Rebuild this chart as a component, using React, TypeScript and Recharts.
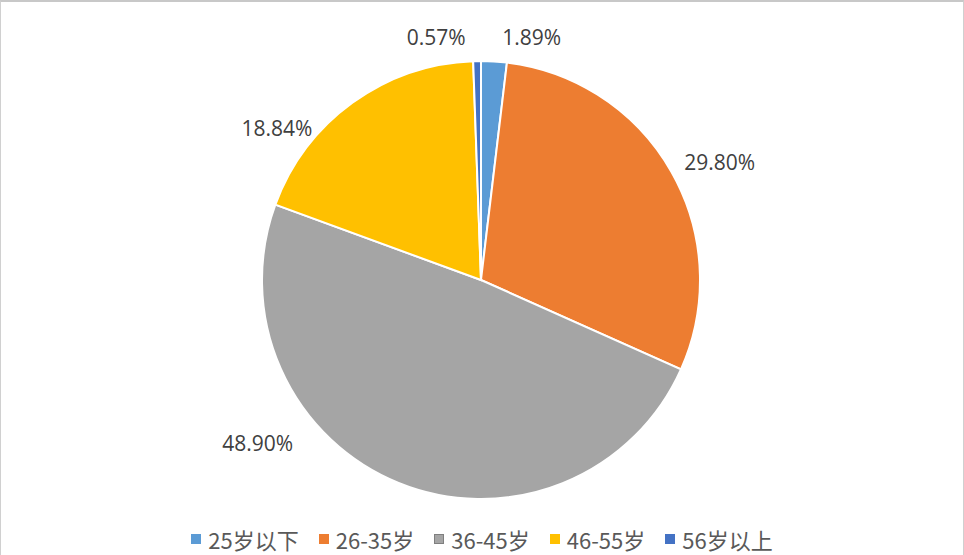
import React from "react";
import { PieChart, Pie, Cell, Legend } from "recharts";

const categories = ["25岁以下", "26-35岁", "36-45岁", "46-55岁", "56岁以上"];
const shares = [1.89, 29.8, 48.9, 18.84, 0.57];
const colors = ["#5B9BD5", "#ED7D31", "#A5A5A5", "#FFC000", "#4472C4"];

const data = categories.map((name, i) => ({ name, value: shares[i] }));

const RADIAN = Math.PI / 180;
// Excel moved some labels off the plain radial spot, so nudge them per slice
const labelNudge = [
  { dx: 35, dy: 21 },
  { dx: 9, dy: 12 },
  { dx: -124, dy: -82 },
  { dx: -49, dy: 62 },
  { dx: -40, dy: 21 },
];

function renderLabel(props: any) {
  const { cx, cy, midAngle, outerRadius, index, value } = props;
  const r = outerRadius + 45;
  const n = labelNudge[index] || { dx: 0, dy: 0 };
  const x = cx + r * Math.cos(-midAngle * RADIAN) + n.dx;
  const y = cy + r * Math.sin(-midAngle * RADIAN) + n.dy;
  return (
    <text
      x={x}
      y={y}
      fill="#404040"
      fontSize={21}
      fontFamily="'Open Sans', 'Noto Sans', sans-serif"
      textAnchor="middle"
      dominantBaseline="central"
    >
      {value.toFixed(2)}%
    </text>
  );
}

function LegendContent() {
  return (
    <div
      style={{
        display: "flex",
        justifyContent: "center",
        alignItems: "center",
        fontFamily: "'Noto Sans CJK SC', 'Noto Sans', sans-serif",
        fontSize: 22,
        color: "#595959",
      }}
    >
      {categories.map((c, i) => (
        <div key={c} style={{ display: "flex", alignItems: "center", marginRight: i < categories.length - 1 ? 20 : 0 }}>
          <span
            style={{
              display: "inline-block",
              width: 10,
              height: 10,
              background: colors[i],
              border: i === 2 ? "1px solid #7f7f7f" : "none",
              boxSizing: "border-box",
              marginRight: 7,
            }}
          />
          <span>{c}</span>
        </div>
      ))}
    </div>
  );
}

export default function App() {
  return (
    <div
      style={{
        position: "fixed",
        left: 0,
        top: 0,
        width: 964,
        height: 555,
        background: "#fff",
        boxSizing: "border-box",
        borderTop: "2px solid #c8c8c8",
        borderLeft: "1px solid #d0d0d0",
        borderRight: "1px solid #d0d0d0",
      }}
    >
      <PieChart width={962} height={553}>
        <Pie
          data={data}
          dataKey="value"
          nameKey="name"
          cx={475}
          cy={273}
          outerRadius={219}
          startAngle={90}
          endAngle={-270}
          stroke="#fff"
          strokeWidth={2}
          label={renderLabel}
          labelLine={false}
          isAnimationActive={false}
        >
          {data.map((d, i) => (
            <Cell key={d.name} fill={colors[i]} />
          ))}
        </Pie>
        <Legend verticalAlign="bottom" content={<LegendContent />} wrapperStyle={{ bottom: 0 }} />
      </PieChart>
    </div>
  );
}
